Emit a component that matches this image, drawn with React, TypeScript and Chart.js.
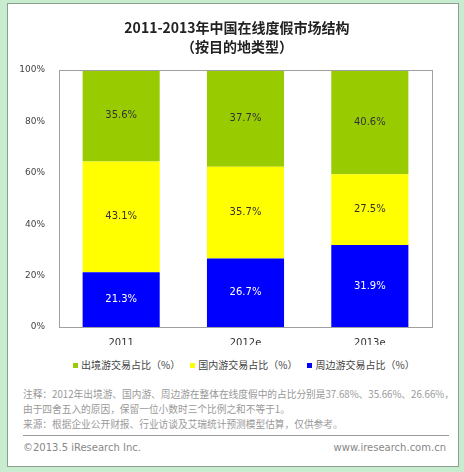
import React, { useEffect, useRef } from "react";
import { Chart, registerables } from "chart.js";

Chart.register(...registerables);

const categories = ["2011", "2012e", "2013e"];
const outbound = [35.6, 37.7, 40.6];
const domestic = [43.1, 35.7, 27.5];
const nearby = [21.3, 26.7, 31.9];
const yTicks = [0, 20, 40, 60, 80, 100];

const seriesNames = ["出境游交易占比（%）", "国内游交易占比（%）", "周边游交易占比（%）"];
const seriesColors = ["#99CC00", "#FFFF00", "#0000FF"];

const FONT = "'DejaVu Sans', 'Noto Sans CJK SC', sans-serif";
const CJK = "'Noto Sans CJK SC', 'DejaVu Sans', sans-serif";

const labelPlugin = {
  id: "segLabels",
  afterDatasetsDraw(chart: any) {
    const ctx = chart.ctx;
    ctx.save();
    ctx.font = "10px " + FONT;
    ctx.textAlign = "center";
    ctx.textBaseline = "middle";
    chart.data.datasets.forEach((ds: any, di: number) => {
      const meta = chart.getDatasetMeta(di);
      meta.data.forEach((bar: any, i: number) => {
        const y = (bar.y + bar.base) / 2;
        ctx.fillStyle = ds.labelColor;
        ctx.fillText(ds.data[i].toFixed(1) + "%", bar.x, y);
      });
    });
    const a = chart.chartArea;
    ctx.strokeStyle = "#a0a0a0";
    ctx.lineWidth = 1;
    ctx.strokeRect(Math.round(a.left) + 0.5, Math.round(a.top) + 0.5, Math.round(a.right - a.left), Math.round(a.bottom - a.top));
    ctx.restore();
  },
};

export default function App() {
  const ref = useRef<HTMLCanvasElement>(null);
  useEffect(() => {
    if (!ref.current) return;
    const chart = new Chart(ref.current, {
      type: "bar",
      data: {
        labels: categories,
        datasets: [
          { label: seriesNames[2], data: nearby, backgroundColor: seriesColors[2], labelColor: "#ffffff" } as any,
          { label: seriesNames[1], data: domestic, backgroundColor: seriesColors[1], labelColor: "#333333" } as any,
          { label: seriesNames[0], data: outbound, backgroundColor: seriesColors[0], labelColor: "#333333" } as any,
        ],
      },
      options: {
        animation: false,
        responsive: false,
        layout: { padding: { left: 8, right: 32, top: 70, bottom: 5 } },
        plugins: { legend: { display: false }, tooltip: { enabled: false } },
        datasets: { bar: { categoryPercentage: 1, barPercentage: 0.62 } },
        scales: {
          x: {
            stacked: true,
            grid: { display: false },
            border: { display: false },
            ticks: { color: "#333", font: { size: 10, family: FONT }, padding: 2 },
            afterFit: (s: any) => { s.height = 18; },
          },
          y: {
            stacked: true,
            min: 0,
            max: 100,
            grid: { display: false },
            border: { display: false },
            afterBuildTicks: (s: any) => { s.ticks = yTicks.map((v) => ({ value: v })); },
            ticks: { color: "#444", font: { size: 9, family: FONT }, padding: 6, callback: (v: any) => v + "%" },
            afterFit: (s: any) => { s.width = 51; },
          },
        },
      },
      plugins: [labelPlugin],
    });
    return () => chart.destroy();
  }, []);

  const text = (s: React.CSSProperties): React.CSSProperties => ({ position: "absolute", whiteSpace: "nowrap", ...s });

  return (
    <div style={{ position: "fixed", left: 0, top: 0, width: 464, height: 472, background: "#c8ecd0", overflow: "hidden" }}>
      <div style={{ position: "absolute", left: 7, top: 3, width: 450, height: 462, background: "#fff", border: "1px solid #8aa08a" }} />
      <canvas ref={ref} width={464} height={350} style={{ position: "absolute", left: 0, top: 0, width: 464, height: 350 }} />
      <div style={text({ left: 0, width: 474, top: 18, textAlign: "center", font: "bold 14px " + CJK, color: "#222", lineHeight: "18px" })}>
        2011-2013年中国在线度假市场结构
      </div>
      <div style={text({ left: 0, width: 474, top: 37, textAlign: "center", font: "bold 14px " + CJK, color: "#222", lineHeight: "18px" })}>
        （按目的地类型）
      </div>
      <div style={text({ left: 73, top: 357, display: "flex", gap: 10, font: "10px " + CJK, color: "#444", lineHeight: "16px" })}>
        {seriesNames.map((n, i) => (
          <span key={n} style={{ display: "flex", alignItems: "center" }}>
            <span style={{ display: "inline-block", width: 5, height: 5, background: seriesColors[i], marginRight: 3 }} />
            {n}
          </span>
        ))}
      </div>
      <div style={text({ left: 23, top: 387, font: "9.7px " + CJK, color: "#999", lineHeight: "15px" })}>
        注释：2012年出境游、国内游、周边游在整体在线度假中的占比分别是37.68%、35.66%、26.66%，<br />
        由于四舍五入的原因，保留一位小数时三个比例之和不等于1。<br />
        来源：根据企业公开财报、行业访谈及艾瑞统计预测模型估算，仅供参考。
      </div>
      <div style={{ position: "absolute", left: 23, top: 435, width: 426, height: 1, background: "#999" }} />
      <div style={text({ left: 23, top: 441, font: "10px " + FONT, color: "#888", lineHeight: "14px" })}>©2013.5 iResearch Inc.</div>
      <div style={text({ right: 18, top: 441, font: "10px " + FONT, color: "#888", lineHeight: "14px" })}>www.iresearch.com.cn</div>
    </div>
  );
}
